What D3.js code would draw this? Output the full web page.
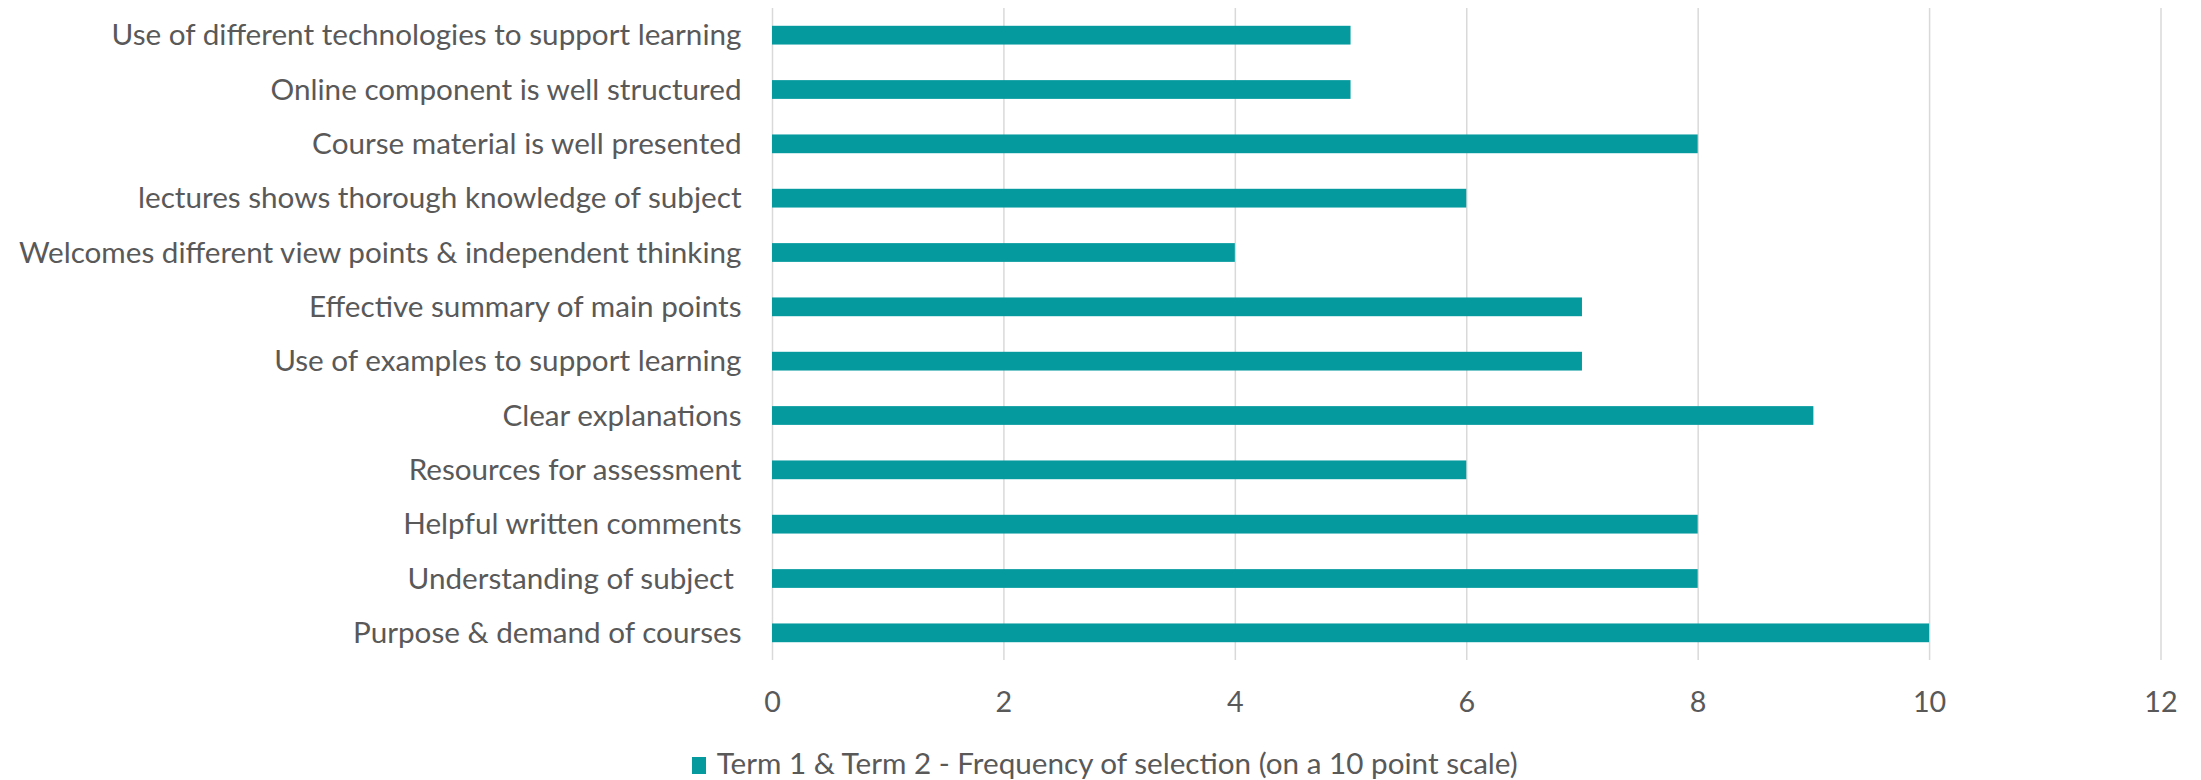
<!DOCTYPE html>
<html>
<head>
<meta charset="utf-8">
<script src="https://cdn.jsdelivr.net/npm/d3@7"></script>
<style>
  html, body { margin: 0; padding: 0; background: #ffffff; }
  svg { display: block; }
  text { font-family: Lato, "Open Sans", sans-serif; fill: #595959; }
</style>
</head>
<body>
<svg id="chart" width="2201" height="780"></svg>
<script>
const categories = [
  "Use of different technologies to support learning",
  "Online component is well structured",
  "Course material is well presented",
  "lectures shows thorough knowledge of subject",
  "Welcomes different view points & independent thinking",
  "Effective summary of main points",
  "Use of examples to support learning",
  "Clear explanations",
  "Resources for assessment",
  "Helpful written comments",
  "Understanding of subject ",
  "Purpose & demand of courses"
];
const values = [5, 5, 8, 6, 4, 7, 7, 9, 6, 8, 8, 10];
const xTicks = [0, 2, 4, 6, 8, 10, 12];
const seriesName = "Term 1 & Term 2 - Frequency of selection (on a 10 point scale)";

const W = 2201, H = 780;
const plot = { left: 772, right: 2160.5, top: 8, bottom: 660 };
const fontSize = 28.7;
const barColor = "#049a9e";
const gridColor = "#d9d9d9";

const svg = d3.select("#chart");

const x = d3.scaleLinear().domain([0, 12]).range([plot.left, plot.right]);
const y = d3.scaleBand().domain(categories).range([plot.top, plot.bottom])
  .paddingInner(0.655).paddingOuter(0.3275);

// gridlines
const grid = svg.append("g").attr("transform", `translate(0,${plot.bottom})`)
  .call(d3.axisBottom(x).tickValues(xTicks).tickSize(-(plot.bottom - plot.top)).tickFormat(""));
grid.select(".domain").remove();
grid.selectAll(".tick line").attr("stroke", gridColor).attr("stroke-width", 1.5);

// bars
svg.append("g").selectAll("rect").data(categories).join("rect")
  .attr("x", x(0))
  .attr("y", d => y(d))
  .attr("width", (d, i) => x(values[i]) - x(0))
  .attr("height", y.bandwidth())
  .attr("fill", barColor);

// x axis labels
const xAxis = svg.append("g").attr("transform", `translate(0,${plot.bottom})`)
  .call(d3.axisBottom(x).tickValues(xTicks).tickSize(0).tickFormat(d3.format("d")));
xAxis.select(".domain").remove();
xAxis.selectAll("text")
  .attr("y", 52.3).attr("dy", 0)
  .style("font-size", fontSize + "px")
  .style("font-family", "Lato, 'Open Sans', sans-serif")
  .attr("fill", "#595959");

// y axis labels
const yAxis = svg.append("g").attr("transform", `translate(${plot.left},0)`)
  .call(d3.axisLeft(y).tickSize(0));
yAxis.select(".domain").remove();
const yTexts = yAxis.selectAll("text")
  .style("font-size", fontSize + "px")
  .style("font-family", "Lato, 'Open Sans', sans-serif")
  .attr("fill", "#595959")
  .attr("dy", "0.358em")
  .style("white-space", "pre");
const refLen = yTexts.nodes()[0].getComputedTextLength();
const k = 630 / refLen;
yTexts.attr("x", -30.5 / k).attr("transform", `scale(${k},1)`);

// legend
const legend = svg.append("g");
legend.append("rect")
  .attr("x", 692).attr("y", 757).attr("width", 14).attr("height", 17)
  .attr("fill", barColor);
const lt = legend.append("text")
  .attr("y", 774)
  .style("font-size", fontSize + "px")
  .text(seriesName);
lt.attr("x", 716.7 / k).attr("transform", `scale(${k},1)`);
</script>
</body>
</html>
